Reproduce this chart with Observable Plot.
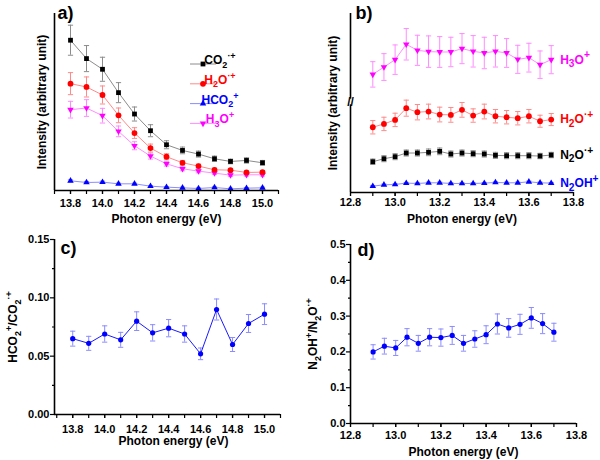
<!DOCTYPE html>
<html><head><meta charset="utf-8">
<script src="https://cdn.jsdelivr.net/npm/d3@7"></script>
<script src="https://cdn.jsdelivr.net/npm/@observablehq/plot@0.6"></script>
<style>
html,body{margin:0;padding:0;background:#fff;}
#wrap{position:relative;width:600px;height:460px;overflow:hidden;background:#fff;}
.panel{position:absolute;width:300px;height:230px;}
</style></head>
<body><div id="wrap"></div>
<script>
// ---------- DATA ----------
// Panel a: CO2-related ions vs photon energy (eV), arbitrary intensity
const energyA = [13.8, 13.9, 14.0, 14.1, 14.2, 14.3, 14.4, 14.5, 14.6, 14.7, 14.8, 14.9, 15.0];
const co2A     = [450, 395, 363, 293, 229, 179, 137, 120, 109, 95, 87, 90, 83];
const co2AErr  = [45, 39, 36, 30, 21, 18, 12, 10, 9, 8, 7, 8, 7];
const h2oA     = [320, 310, 286, 225, 172, 127, 101, 83, 73, 62, 61, 54, 55];
const h2oAErr  = [33, 30, 27, 22, 16, 12, 9, 7, 6, 5, 5, 4, 4];
const hco2A    = [29, 24, 25, 20, 20, 13, 10, 8, 6, 9, 5, 7, 8];
const hco2AErr = [3, 3, 3, 2, 2, 2, 2, 2, 2, 2, 2, 2, 2];
const h3oA     = [242, 247, 224, 177, 134, 103, 80, 65, 58, 52, 46, 47, 47];
const h3oAErr  = [25, 25, 22, 16, 12, 9, 7, 6, 5, 4, 4, 4, 4];

// Panel b: N2O-related ions
const energyB = [12.9, 12.95, 13.0, 13.05, 13.1, 13.15, 13.2, 13.25, 13.3, 13.35, 13.4, 13.45, 13.5, 13.55, 13.6, 13.65, 13.7];
const h3oB     = [353, 375, 397, 443, 425, 421, 420, 420, 430, 422, 417, 422, 417, 398, 403, 382, 397];
const h3oBErr  = [38, 40, 44, 47, 45, 47, 46, 44, 45, 47, 47, 47, 43, 42, 43, 41, 42];
const h2oB     = [195, 205, 217, 252, 240, 242, 233, 232, 247, 230, 242, 228, 225, 222, 228, 213, 218];
const h2oBErr  = [20, 20, 20, 24, 23, 22, 22, 22, 22, 20, 22, 20, 20, 20, 20, 18, 18];
const n2oB     = [92, 101, 107, 118, 118, 120, 123, 115, 118, 116, 115, 111, 110, 110, 110, 109, 112];
const n2oBErr  = [8, 9, 9, 9, 9, 10, 10, 9, 9, 9, 9, 9, 9, 9, 9, 8, 8];
const n2ohB    = [19, 23, 24, 28, 27, 29, 29, 27, 27, 27, 28, 30, 29, 29, 32, 29, 28];
const n2ohBErr = [2, 2, 2, 2, 2, 2, 2, 2, 2, 2, 2, 2, 2, 2, 2, 2, 2];

// Panel c: HCO2+/CO2.+ ratio
const ratioC    = [0.065, 0.061, 0.069, 0.064, 0.080, 0.070, 0.074, 0.069, 0.052, 0.090, 0.060, 0.078, 0.086];
const ratioCErr = [0.0064, 0.006, 0.007, 0.0064, 0.008, 0.007, 0.0074, 0.007, 0.005, 0.009, 0.006, 0.0077, 0.0089];

// Panel d: N2OH+/N2O.+ ratio
const ratioD    = [0.200, 0.216, 0.211, 0.241, 0.224, 0.241, 0.240, 0.246, 0.224, 0.236, 0.248, 0.278, 0.267, 0.277, 0.295, 0.279, 0.255];
const ratioDErr = [0.020, 0.022, 0.021, 0.024, 0.022, 0.024, 0.024, 0.025, 0.022, 0.023, 0.025, 0.028, 0.026, 0.028, 0.029, 0.028, 0.025];

// Axis domains and ticks
const xDomA = [13.7, 15.1];
const yDomA = [0, 530];
const ticksMajorA = [13.8, 14.0, 14.2, 14.4, 14.6, 14.8, 15.0];
const ticksMinorA = [13.7, 13.8, 13.9, 14.0, 14.1, 14.2, 14.3, 14.4, 14.5, 14.6, 14.7, 14.8, 14.9, 15.0, 15.1];
const xDomB = [12.8, 13.8];
const yDomB = [0, 535];
const breakB = [262, 270, 279];   // gap low, mark, gap high
const ticksMajorB = [12.8, 13.0, 13.2, 13.4, 13.6, 13.8];
const ticksMinorB = [12.8, 12.9, 13.0, 13.1, 13.2, 13.3, 13.4, 13.5, 13.6, 13.7, 13.8];
const xDomC = [13.686, 15.1];
const yDomC = [0, 0.15];
const yTicksC = [0, 0.05, 0.10, 0.15];
const yMinorC = [0.025, 0.075, 0.125];
const yDomD = [0, 0.5];
const yTicksD = [0, 0.1, 0.2, 0.3, 0.4, 0.5];
const yMinorD = [0.05, 0.15, 0.25, 0.35, 0.45];

// Labels
const xTitle = "Photon energy (eV)";
const yTitleAB = "Intensity (arbitrary unit)";
const yTitleC = "HCO_2^+/CO_2^{·+}";
const yTitleD = "N_2OH^+/N_2O^{·+}";
const legendA = [
  {label: "CO_2^{·+}", key: "black"},
  {label: "H_2O^{·+}", key: "red"},
  {label: "HCO_2^+", key: "blue"},
  {label: "H_3O^+", key: "magenta"}
];
const labelsB = {magenta: "H_3O^+", red: "H_2O^{·+}", black: "N_2O^{·+}", blue: "N_2OH^+"};

// ---------- STYLE ----------
const FONT = '"Liberation Sans", Arial, Helvetica, sans-serif';
const COL = {
  black:   {c: "#000000", l: "#8c8c8c"},
  red:     {c: "#ff0000", l: "#ff8a8a"},
  blue:    {c: "#0000ff", l: "#8c8cff"},
  magenta: {c: "#ff00ff", l: "#ff8cff"}
};
const SQ3 = Math.sqrt(3);
const triDown = {draw(ctx, size) {
  const y = -Math.sqrt(size / (SQ3 * 3));
  ctx.moveTo(0, -y * 2); ctx.lineTo(-SQ3 * y, y); ctx.lineTo(SQ3 * y, y); ctx.closePath();
}};
const capSym = {draw(ctx, size) {
  const w = Math.sqrt(size / Math.PI);
  ctx.moveTo(-w, 0); ctx.lineTo(w, 0);
}};
const SYM = {black: "square", red: "circle", blue: "triangle", magenta: triDown};
const SYMR = {black: 2.7, red: 2.9, blue: 2.4, magenta: 2.4};

const baseStyle = {fontFamily: FONT, fontSize: "11px", fontWeight: "bold", color: "#000", background: "transparent", overflow: "visible"};

function rows(xs, ys, es) { return xs.map((x, i) => ({x, y: ys[i], e: es[i]})); }

function series(data, key, opts = {}) {
  const c = opts.color || COL[key].c, l = opts.light || COL[key].l;
  return [
    Plot.ruleX(data, {x: "x", y1: d => d.y - d.e, y2: d => d.y + d.e, stroke: l, strokeWidth: 1}),
    Plot.dot(data, {x: "x", y: d => d.y + d.e, symbol: capSym, r: 2.6, stroke: l, fill: "none", strokeWidth: 1}),
    Plot.dot(data, {x: "x", y: d => d.y - d.e, symbol: capSym, r: 2.6, stroke: l, fill: "none", strokeWidth: 1}),
    Plot.line(data, {x: "x", y: "y", stroke: opts.line || l, strokeWidth: opts.lineWidth || 1}),
    Plot.dot(data, {x: "x", y: "y", symbol: opts.symbol || SYM[key], r: opts.r || SYMR[key], fill: c, stroke: "none"})
  ];
}

function xAxis(major, minor, pad) {
  return [
    Plot.axisX(minor, {tickSize: 4, tickFormat: () => "", label: null, strokeWidth: 1.2}),
    Plot.axisX(major, {tickSize: 4, tickPadding: pad, tickFormat: ".1f", label: null, strokeWidth: 1.2})
  ];
}
function yAxis(major, minor, fmt) {
  return [
    Plot.axisY(minor, {tickSize: 2, tickFormat: () => "", label: null, strokeWidth: 1.2}),
    Plot.axisY(major, {tickSize: 4, tickPadding: 1, tickFormat: fmt, label: null, strokeWidth: 1.2})
  ];
}
function titles(xt, xdy, xdx, yt, ydx, letter, ldx, ldy) {
  return [
    Plot.text([xt], {text: d => d, frameAnchor: "bottom", dy: xdy, dx: xdx, textAnchor: "middle", lineAnchor: "middle", fontSize: 12, fontWeight: "bold"}),
    Plot.text([yt], {text: d => d, frameAnchor: "left", dx: ydx, rotate: -90, textAnchor: "middle", lineAnchor: "middle", fontSize: 12, fontWeight: "bold"}),
    Plot.text([letter], {text: d => d, frameAnchor: "top-left", dx: ldx, dy: ldy, textAnchor: "start", lineAnchor: "middle", fontSize: 18, fontWeight: "bold"})
  ];
}

// rich text: _x / _{..} subscript, ^x / ^{..} superscript
const NS = "http://www.w3.org/2000/svg";
function parseRich(s) {
  const out = []; let i = 0, buf = "";
  while (i < s.length) {
    const ch = s[i];
    if ((ch === "_" || ch === "^") && i + 1 < s.length) {
      if (buf) { out.push({t: buf, k: 0}); buf = ""; }
      let content;
      if (s[i + 1] === "{") { const j = s.indexOf("}", i + 2); content = s.slice(i + 2, j); i = j + 1; }
      else { content = s[i + 1]; i += 2; }
      out.push({t: content, k: ch === "_" ? 1 : -1});
    } else { buf += ch; i++; }
  }
  if (buf) out.push({t: buf, k: 0});
  return out;
}
function richify(root, scale = 0.75) {
  root.querySelectorAll("text").forEach(t => {
    if (t.children.length) return;
    const s = t.textContent;
    if (!/[_^]/.test(s)) return;
    const fs = parseFloat(getComputedStyle(t).fontSize) || 11;
    t.textContent = "";
    let cur = 0;
    parseRich(s).forEach(seg => {
      const ts = document.createElementNS(NS, "tspan");
      const target = seg.k === 1 ? 0.3 * fs : seg.k === -1 ? -0.42 * fs : 0;
      ts.setAttribute("dy", (target - cur).toFixed(2));
      cur = target;
      if (seg.k) ts.setAttribute("font-size", (scale * fs).toFixed(2));
      ts.textContent = seg.t;
      t.appendChild(ts);
    });
  });
}

function place(svg, left, top) {
  const div = document.createElement("div");
  div.className = "panel";
  div.style.left = left + "px";
  div.style.top = top + "px";
  div.appendChild(svg);
  document.getElementById("wrap").appendChild(div);
}

// ---------- PANEL A ----------
const axisLine = {stroke: "#000", strokeWidth: 1.6};
const svgA = Plot.plot({
  width: 300, height: 230, marginLeft: 54, marginRight: 22, marginTop: 13, marginBottom: 40,
  x: {domain: xDomA}, y: {domain: yDomA, axis: null},
  style: baseStyle,
  marks: [
    ...xAxis(ticksMajorA, ticksMinorA, 5),
    ...series(rows(energyA, hco2A, hco2AErr), "blue"),
    ...series(rows(energyA, h3oA, h3oAErr), "magenta"),
    ...series(rows(energyA, h2oA, h2oAErr), "red"),
    ...series(rows(energyA, co2A, co2AErr), "black"),
    Plot.ruleY([yDomA[0]], axisLine),
    Plot.ruleX([xDomA[0]], axisLine),
    ...titles(xTitle, 29, 0, yTitleAB, -12, "a)", 3, 0)
  ]
});
place(svgA, 0, 0);
// legend
const leg = d3.select(svgA).append("g").attr("font-family", FONT).attr("font-weight", "bold");
legendA.forEach((it, i) => {
  const y = 64 + i * 19.8, k = COL[it.key];
  leg.append("line").attr("x1", 190).attr("x2", 216).attr("y1", y).attr("y2", y).attr("stroke", k.l).attr("stroke-width", 1);
  const sym = SYM[it.key] === "square" ? d3.symbolSquare : SYM[it.key] === "circle" ? d3.symbolCircle : SYM[it.key] === "triangle" ? d3.symbolTriangle : triDown;
  leg.append("path").attr("d", d3.symbol(sym, Math.PI * SYMR[it.key] ** 2)()).attr("transform", `translate(203,${y})`).attr("fill", k.c);
  leg.append("text").attr("x", 220).attr("y", y).attr("dy", "0.36em").attr("fill", k.c).attr("font-size", 12).text(it.label);
});
richify(svgA);

// ---------- PANEL B ----------
const serB = [
  {key: "blue", d: rows(energyB, n2ohB, n2ohBErr)},
  {key: "black", d: rows(energyB, n2oB, n2oBErr)},
  {key: "red", d: rows(energyB, h2oB, h2oBErr)},
  {key: "magenta", d: rows(energyB, h3oB, h3oBErr)}
];
const svgB = Plot.plot({
  width: 300, height: 230, marginLeft: 50, marginRight: 27, marginTop: 13, marginBottom: 38,
  x: {domain: xDomB}, y: {domain: yDomB, axis: null},
  style: baseStyle,
  marks: [
    ...xAxis(ticksMajorB, ticksMinorB, 2),
    ...serB.flatMap(s => series(s.d, s.key)),
    ...serB.map(s => Plot.text(s.d, Plot.selectLast({x: "x", y: "y", text: () => labelsB[s.key], dx: 9, textAnchor: "start", fill: COL[s.key].c, fontSize: 12, fontWeight: "bold"}))),
    Plot.ruleY([yDomB[0]], axisLine),
    Plot.ruleX([[yDomB[0], breakB[0]], [breakB[2], yDomB[1]]], {x: () => xDomB[0], y1: d => d[0], y2: d => d[1], ...axisLine}),
    Plot.text([breakB[1]], {x: () => xDomB[0], y: d => d, text: () => "//", fontSize: 12, fontWeight: "bold"}),
    ...titles(xTitle, 27, 0, yTitleAB, -17, "b)", 5, 0)
  ]
});
place(svgB, 300, 0);
richify(svgB, 0.85);

// ---------- PANEL C ----------
const svgC = Plot.plot({
  width: 300, height: 230, marginLeft: 54, marginRight: 20, marginTop: 9, marginBottom: 46,
  x: {domain: xDomC}, y: {domain: yDomC},
  style: baseStyle,
  marks: [
    ...xAxis(ticksMajorA, ticksMinorA, 7),
    ...yAxis(yTicksC, yMinorC, ".2f"),
    ...series(rows(energyA, ratioC, ratioCErr), "blue", {line: "#1a1aff", r: 2.6, symbol: "circle"}),
    Plot.ruleY([yDomC[0]], axisLine),
    Plot.ruleX([xDomC[0]], axisLine),
    ...titles(xTitle, 27, 6, yTitleC, -41, "c)", 6, 9)
  ]
});
place(svgC, 0, 230);
richify(svgC);

// ---------- PANEL D ----------
const svgD = Plot.plot({
  width: 300, height: 230, marginLeft: 50, marginRight: 24, marginTop: 14, marginBottom: 37,
  x: {domain: xDomB}, y: {domain: yDomD},
  style: baseStyle,
  marks: [
    ...xAxis(ticksMajorB, ticksMinorB, 4),
    ...yAxis(yTicksD, yMinorD, ".1f"),
    ...series(rows(energyB, ratioD, ratioDErr), "blue", {line: "#1a1aff", r: 2.6, symbol: "circle"}),
    Plot.ruleY([yDomD[0]], axisLine),
    Plot.ruleX([xDomB[0]], axisLine),
    ...titles(xTitle, 29, 0, yTitleD, -37, "d)", 7, 6)
  ]
});
place(svgD, 300, 230);
richify(svgD);
</script>
</body></html>
